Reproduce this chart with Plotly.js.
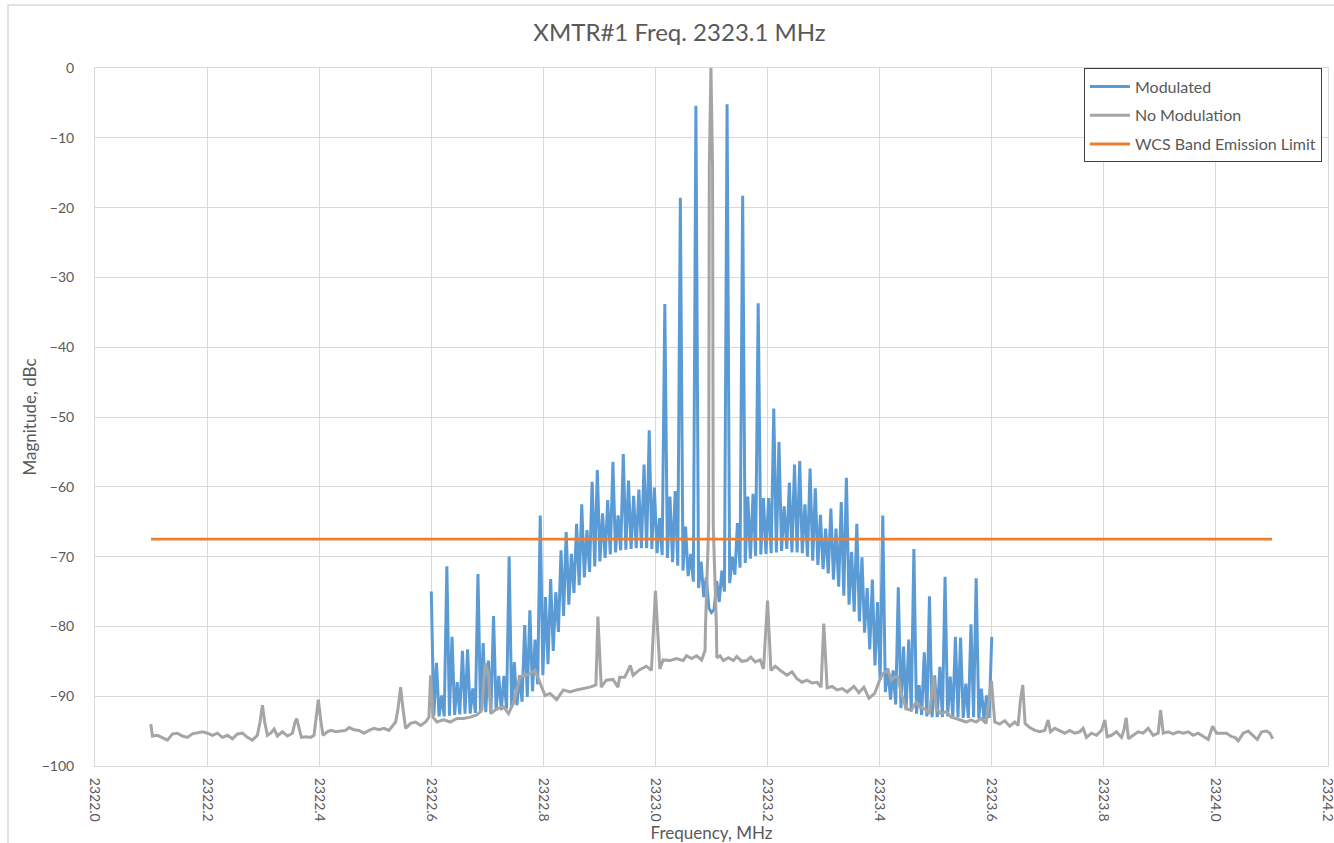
<!DOCTYPE html>
<html>
<head>
<meta charset="utf-8">
<script src="https://cdn.plot.ly/plotly-3.0.1.min.js"></script>
<style>html,body{margin:0;padding:0;background:#fff;}#chart{width:1334px;height:843px;}</style>
</head>
<body>
<div id="chart"></div>
<script>
// Modulated spectrum: alternating sideband peak / floor points (MHz, dBc)
var modFreq = [
2322.6000,2322.6046,2322.6093,2322.6139,2322.6185,2322.6231,2322.6278,2322.6324,2322.6370,2322.6417,
2322.6463,2322.6509,2322.6556,2322.6602,2322.6648,2322.6694,2322.6741,2322.6787,2322.6833,2322.6880,
2322.6926,2322.6972,2322.7019,2322.7065,2322.7111,2322.7157,2322.7204,2322.7250,2322.7296,2322.7343,
2322.7389,2322.7435,2322.7481,2322.7528,2322.7574,2322.7620,2322.7667,2322.7713,2322.7759,2322.7806,
2322.7852,2322.7898,2322.7944,2322.7991,2322.8037,2322.8083,2322.8130,2322.8176,2322.8222,2322.8269,
2322.8315,2322.8361,2322.8407,2322.8454,2322.8500,2322.8546,2322.8593,2322.8639,2322.8685,2322.8731,
2322.8778,2322.8824,2322.8870,2322.8917,2322.8963,2322.9009,2322.9056,2322.9102,2322.9148,2322.9194,
2322.9241,2322.9287,2322.9333,2322.9380,2322.9426,2322.9472,2322.9519,2322.9565,2322.9611,2322.9657,
2322.9704,2322.9750,2322.9796,2322.9843,2322.9889,2322.9935,2322.9981,2323.0028,2323.0074,2323.0120,
2323.0167,2323.0213,2323.0259,2323.0306,2323.0352,2323.0398,2323.0444,2323.0491,2323.0537,2323.0583,
2323.0630,2323.0676,2323.0722,2323.0769,2323.0815,2323.0861,2323.0907,2323.0954,2323.1000,2323.1046,
2323.1093,2323.1139,2323.1185,2323.1231,2323.1278,2323.1324,2323.1370,2323.1417,2323.1463,2323.1509,
2323.1556,2323.1602,2323.1648,2323.1694,2323.1741,2323.1787,2323.1833,2323.1880,2323.1926,2323.1972,
2323.2019,2323.2065,2323.2111,2323.2157,2323.2204,2323.2250,2323.2296,2323.2343,2323.2389,2323.2435,
2323.2481,2323.2528,2323.2574,2323.2620,2323.2667,2323.2713,2323.2759,2323.2806,2323.2852,2323.2898,
2323.2944,2323.2991,2323.3037,2323.3083,2323.3130,2323.3176,2323.3222,2323.3269,2323.3315,2323.3361,
2323.3407,2323.3454,2323.3500,2323.3546,2323.3593,2323.3639,2323.3685,2323.3731,2323.3778,2323.3824,
2323.3870,2323.3917,2323.3963,2323.4009,2323.4056,2323.4102,2323.4148,2323.4194,2323.4241,2323.4287,
2323.4333,2323.4380,2323.4426,2323.4472,2323.4519,2323.4565,2323.4611,2323.4657,2323.4704,2323.4750,
2323.4796,2323.4843,2323.4889,2323.4935,2323.4981,2323.5028,2323.5074,2323.5120,2323.5167,2323.5213,
2323.5259,2323.5306,2323.5352,2323.5398,2323.5444,2323.5491,2323.5537,2323.5583,2323.5630,2323.5676,
2323.5722,2323.5769,2323.5815,2323.5861,2323.5907,2323.5954,2323.6000
];
var modMag = [
-75.0,-92.8,-85.2,-92.9,-89.9,-92.9,-71.4,-92.8,-81.5,-92.7,
-88.0,-92.6,-83.5,-92.5,-83.3,-92.5,-88.9,-92.4,-72.5,-92.4,
-82.4,-92.3,-84.9,-92.2,-78.5,-92.1,-87.1,-92.0,-87.1,-91.8,
-70.0,-91.6,-85.1,-91.3,-87.0,-90.8,-79.8,-90.1,-77.7,-89.3,
-81.9,-88.3,-64.1,-87.0,-75.8,-85.4,-73.2,-83.5,-75.1,-80.8,
-69.1,-78.5,-66.5,-76.9,-69.6,-75.2,-65.3,-74.1,-62.5,-73.0,
-66.2,-72.2,-59.3,-71.4,-57.6,-70.7,-63.8,-70.2,-61.9,-69.7,
-56.4,-69.4,-64.1,-69.1,-55.3,-69.0,-59.1,-68.9,-61.3,-68.8,
-60.4,-68.8,-56.8,-68.8,-51.9,-68.9,-60.1,-69.5,-64.5,-69.8,
-33.8,-70.2,-61.4,-70.8,-60.6,-71.3,-18.6,-72.0,-65.7,-72.8,
-69.6,-73.6,-5.4,-74.5,-70.7,-75.8,-73.0,-77.4,-78.0,-77.6,
-73.5,-76.5,-72.0,-75.0,-5.2,-73.8,-70.0,-72.6,-65.2,-71.6,
-18.3,-70.9,-61.4,-70.3,-61.0,-69.9,-33.7,-69.7,-61.6,-69.6,
-61.6,-69.5,-48.8,-69.4,-53.6,-69.2,-62.8,-68.9,-59.4,-69.4,
-56.8,-69.4,-56.3,-69.5,-62.5,-70.0,-57.4,-70.6,-60.2,-71.2,
-64.0,-71.8,-66.0,-72.4,-63.1,-73.3,-66.0,-74.3,-62.2,-75.6,
-58.7,-76.9,-69.3,-77.9,-65.3,-79.3,-70.1,-80.9,-74.5,-83.3,
-73.3,-85.6,-76.5,-87.7,-64.1,-89.4,-86.0,-90.5,-86.3,-91.2,
-74.4,-91.7,-82.9,-92.0,-81.9,-92.2,-68.9,-92.5,-88.4,-92.7,
-83.7,-92.9,-75.7,-93.0,-87.0,-93.0,-85.8,-93.0,-72.9,-92.9,
-87.2,-92.9,-81.5,-93.0,-81.6,-93.1,-88.2,-93.1,-79.7,-93.0,
-73.1,-93.2,-88.9,-93.3,-89.9,-93.1,-81.5
];

// Unmodulated carrier spectrum (MHz, dBc)
var noModFreq = [
2322.0996,2322.1025,2322.1114,2322.1204,2322.1293,2322.1382,2322.1471,2322.1560,2322.1649,2322.1738,
2322.1828,2322.1917,2322.2006,2322.2095,2322.2184,2322.2273,2322.2363,2322.2452,2322.2541,2322.2630,
2322.2719,2322.2808,2322.2897,2322.2945,2322.2987,2322.3028,2322.3076,2322.3135,2322.3195,2322.3254,
2322.3343,2322.3432,2322.3522,2322.3563,2322.3599,2322.3640,2322.3682,2322.3759,2322.3848,2322.3908,
2322.3949,2322.3985,2322.4027,2322.4068,2322.4146,2322.4205,2322.4294,2322.4383,2322.4473,2322.4532,
2322.4621,2322.4710,2322.4799,2322.4889,2322.4978,2322.5067,2322.5156,2322.5245,2322.5305,2322.5364,
2322.5406,2322.5453,2322.5495,2322.5542,2322.5631,2322.5721,2322.5810,2322.5899,2322.5958,2322.5988,
2322.6030,2322.6101,2322.6220,2322.6338,2322.6457,2322.6576,2322.6694,2322.6813,2322.6902,2322.6961,
2322.7021,2322.7062,2322.7169,2322.7288,2322.7377,2322.7466,2322.7585,2322.7674,2322.7763,2322.7852,
2322.7941,2322.8030,2322.8119,2322.8237,2322.8356,2322.8475,2322.8593,2322.8712,2322.8831,2322.8938,
2322.8973,2322.9033,2322.9122,2322.9242,2322.9331,2322.9361,2322.9451,2322.9552,2322.9600,2322.9719,
2322.9839,2322.9928,2323.0000,2323.0078,2323.0137,2323.0257,2323.0376,2323.0496,2323.0555,2323.0645,
2323.0734,2323.0824,2323.0866,2323.0885,2323.0893,2323.0949,2323.0961,2323.0990,2323.1019,2323.1031,
2323.1087,2323.1095,2323.1152,2323.1212,2323.1301,2323.1391,2323.1451,2323.1540,2323.1630,2323.1701,
2323.1779,2323.1869,2323.1928,2323.2000,2323.2060,2323.2137,2323.2227,2323.2346,2323.2436,2323.2525,
2323.2615,2323.2704,2323.2794,2323.2884,2323.2955,2323.3003,2323.3063,2323.3152,2323.3242,2323.3331,
2323.3421,2323.3540,2323.3630,2323.3719,2323.3809,2323.3911,2323.4000,2323.4059,2323.4148,2323.4208,
2323.4267,2323.4326,2323.4386,2323.4475,2323.4564,2323.4653,2323.4712,2323.4801,2323.4890,2323.4961,
2323.5009,2323.5098,2323.5187,2323.5276,2323.5365,2323.5454,2323.5543,2323.5632,2323.5721,2323.5810,
2323.5899,2323.5995,2323.6054,2323.6143,2323.6232,2323.6321,2323.6411,2323.6470,2323.6512,2323.6554,
2323.6595,2323.6679,2323.6768,2323.6857,2323.6946,2323.7006,2323.7048,2323.7125,2323.7214,2323.7304,
2323.7393,2323.7482,2323.7571,2323.7631,2323.7690,2323.7780,2323.7869,2323.7958,2323.8018,2323.8060,
2323.8137,2323.8226,2323.8315,2323.8357,2323.8399,2323.8440,2323.8524,2323.8613,2323.8702,2323.8792,
2323.8881,2323.8970,2323.9012,2323.9060,2323.9149,2323.9238,2323.9327,2323.9417,2323.9506,2323.9595,
2323.9685,2323.9774,2323.9863,2323.9940,2324.0012,2324.0101,2324.0190,2324.0280,2324.0339,2324.0399,
2324.0488,2324.0577,2324.0667,2324.0738,2324.0815,2324.0905,2324.0964,2324.1012
];
var noModMag = [
-94.0,-95.7,-95.6,-95.9,-96.3,-95.4,-95.3,-95.7,-95.9,-95.4,
-95.3,-95.1,-95.3,-95.6,-95.3,-95.9,-95.6,-96.1,-95.4,-95.3,
-95.9,-96.3,-95.6,-93.7,-91.3,-93.7,-95.6,-95.3,-94.7,-95.7,
-95.1,-95.7,-95.3,-93.9,-93.2,-94.4,-95.9,-95.8,-95.9,-95.6,
-93.0,-90.5,-93.4,-95.6,-95.1,-94.9,-95.1,-95.0,-94.9,-94.5,
-94.8,-94.9,-95.3,-94.9,-94.6,-94.8,-94.6,-94.9,-94.2,-93.7,
-91.8,-88.7,-91.8,-94.6,-93.9,-93.7,-94.2,-93.7,-93.0,-87.0,
-93.0,-93.7,-93.4,-93.7,-93.2,-93.2,-93.0,-92.7,-92.0,-85.3,
-86.8,-92.5,-91.8,-91.5,-92.5,-91.0,-87.2,-87.0,-86.8,-86.3,
-88.2,-89.9,-89.6,-90.5,-89.1,-89.4,-89.1,-88.9,-88.7,-88.4,
-78.6,-88.7,-87.7,-87.6,-88.7,-87.3,-87.3,-85.6,-87.0,-86.2,
-85.7,-86.3,-74.9,-86.1,-84.8,-84.9,-84.6,-84.9,-84.2,-84.6,
-84.2,-84.8,-83.7,-83.5,-80.0,-65.5,-14.0,0.0,-14.0,-65.5,
-80.0,-84.5,-84.2,-84.9,-84.5,-84.9,-84.3,-85.0,-84.9,-84.4,
-85.1,-84.8,-86.1,-76.3,-86.3,-85.7,-86.3,-87.0,-86.5,-87.5,
-88.0,-87.7,-88.1,-88.0,-88.7,-79.6,-88.8,-88.6,-89.1,-88.9,
-89.4,-88.6,-89.5,-88.7,-90.3,-89.6,-87.7,-86.8,-86.3,-87.7,
-87.2,-87.2,-89.6,-91.8,-92.0,-90.8,-91.5,-91.8,-92.5,-87.2,
-91.8,-92.5,-92.2,-93.0,-93.2,-93.4,-93.7,-93.4,-93.7,-93.2,
-93.9,-87.8,-93.7,-94.0,-93.5,-94.3,-93.7,-94.2,-90.6,-88.4,
-93.9,-94.5,-94.9,-95.1,-94.9,-93.4,-95.1,-94.6,-94.9,-95.3,
-94.9,-95.3,-95.1,-94.6,-95.9,-95.3,-95.6,-94.9,-93.4,-95.8,
-95.6,-95.1,-95.9,-94.9,-93.1,-96.1,-95.6,-95.1,-95.3,-94.6,
-95.6,-95.3,-92.0,-95.3,-95.1,-95.4,-95.1,-95.3,-95.1,-95.6,
-95.3,-95.7,-96.2,-94.3,-95.3,-95.3,-95.3,-95.8,-95.9,-96.4,
-95.3,-95.0,-95.6,-96.2,-95.1,-95.0,-95.3,-96.1
];

// WCS band emission limit
var limitFreq = [2322.1, 2324.1];
var limitMag = [-67.5, -67.5];

var xTicks = [2322.0,2322.2,2322.4,2322.6,2322.8,2323.0,2323.2,2323.4,2323.6,2323.8,2324.0,2324.2];
var xTickText = ['2322.0','2322.2','2322.4','2322.6','2322.8','2323.0','2323.2','2323.4','2323.6','2323.8','2324.0','2324.2'];
var yTicks = [0,-10,-20,-30,-40,-50,-60,-70,-80,-90,-100];

var FONT = 'Lato, "Open Sans", sans-serif';
var TXT = '#595959';

var traces = [
  {x: modFreq, y: modMag, type: 'scatter', mode: 'lines', name: 'Modulated',
   line: {color: '#5B9BD5', width: 3}, legendgroup: 'a'},
  {x: noModFreq, y: noModMag, type: 'scatter', mode: 'lines', name: 'No Modulation',
   line: {color: '#A5A5A5', width: 3}, legendgroup: 'b'},
  {x: limitFreq, y: limitMag, type: 'scatter', mode: 'lines', name: 'WCS Band Emission Limit',
   line: {color: '#ED7D31', width: 2.8}, legendgroup: 'c'}
];

var layout = {
  width: 1334, height: 843,
  margin: {l: 95, r: 6, t: 68, b: 77},
  paper_bgcolor: '#fff', plot_bgcolor: '#fff',
  font: {family: FONT, color: TXT, size: 14},
  title: {text: 'XMTR#1 Freq. 2323.1 MHz', x: 0.5094, xref: 'container', xanchor: 'center',
          y: 1 - 33/843, yref: 'container', yanchor: 'middle',
          font: {family: FONT, size: 24, color: TXT}},
  showlegend: true,
  legend: {x: 0.9951, y: 0.9993, xanchor: 'right', yanchor: 'top', bgcolor: '#fff',
           bordercolor: '#404040', borderwidth: 1, traceorder: 'grouped', tracegroupgap: 5,
           itemwidth: 40, font: {family: FONT, size: 16, color: TXT}},
  xaxis: {range: [2322.0, 2324.2], tickmode: 'array', tickvals: xTicks, ticktext: xTickText,
          tickangle: 90, ticks: '', showgrid: true, gridcolor: '#d9d9d9', gridwidth: 1,
          showline: true, mirror: true, linecolor: '#d9d9d9', linewidth: 1, zeroline: false,
          ticklabeloverflow: 'allow',
          tickfont: {family: FONT, size: 14, color: TXT}, ticklabelstandoff: 8,
          title: {text: 'Frequency, MHz', standoff: 3, font: {family: FONT, size: 17, color: TXT}},
          automargin: false},
  yaxis: {range: [-100, 0], tickmode: 'array', tickvals: yTicks, ticks: '',
          showgrid: true, gridcolor: '#d9d9d9', gridwidth: 1,
          showline: true, mirror: true, linecolor: '#d9d9d9', linewidth: 1, zeroline: false,
          tickfont: {family: FONT, size: 14, color: TXT}, ticklabelstandoff: 17,
          title: {text: 'Magnitude, dBc', standoff: 0, font: {family: FONT, size: 17, color: TXT}},
          automargin: false},
  shapes: [{type: 'rect', xref: 'paper', yref: 'paper', x0: (8-95)/1233, x1: (1345-95)/1233,
            y0: (766-850)/698, y1: (766-5)/698, line: {color: '#d9d9d9', width: 1.5},
            fillcolor: 'rgba(0,0,0,0)', layer: 'below'}]
};

Plotly.newPlot('chart', traces, layout, {displayModeBar: false, staticPlot: true});
</script>
</body>
</html>
